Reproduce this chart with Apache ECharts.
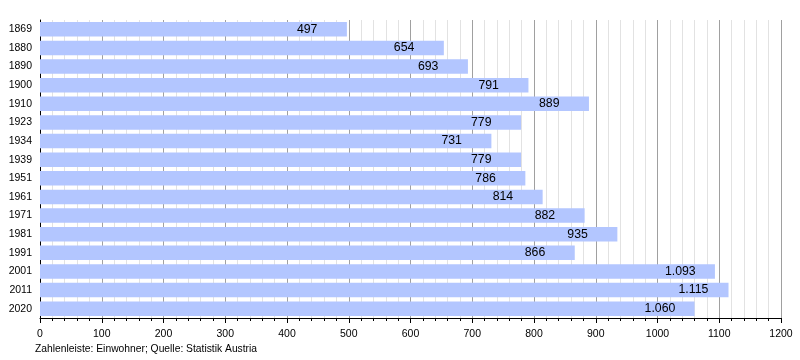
<!DOCTYPE html>
<html><head><meta charset="utf-8">
<script src="https://cdn.jsdelivr.net/npm/echarts@6/dist/echarts.min.js"></script>
<style>html,body{margin:0;padding:0;background:#fff}#c{width:800px;height:360px}</style>
</head><body><div id="c"></div>
<script>
const years = ['1869','1880','1890','1900','1910','1923','1934','1939','1951','1961','1971','1981','1991','2001','2011','2020'];
const population = [497,654,693,791,889,779,731,779,786,814,882,935,866,1093,1115,1060];
const xTicks = [0,100,200,300,400,500,600,700,800,900,1000,1100,1200];

const FONT = 'Liberation Sans, Arial, sans-serif';
const chart = echarts.init(document.getElementById('c'), null, {renderer:'canvas'});
const fmt = v => v >= 1000 ? Math.floor(v/1000) + '.' + String(v%1000).padStart(3,'0') : String(v);
chart.setOption({
  animation:false,
  backgroundColor:'#fff',
  grid:{left:40,right:19,top:20,bottom:42,containLabel:false},
  xAxis:{
    type:'value', min:xTicks[0], max:xTicks[xTicks.length-1], interval:100,
    axisLine:{show:true,lineStyle:{color:'#000',width:1}},
    axisTick:{show:true,length:5,lineStyle:{color:'#000'}},
    minorTick:{show:true,splitNumber:5,length:3,lineStyle:{color:'#000'}},
    splitLine:{show:true,lineStyle:{color:'#a0a0a0',width:1}},
    minorSplitLine:{show:true,lineStyle:{color:'#e2e2e2',width:1}},
    axisLabel:{color:'#000',fontSize:10.5,fontFamily:FONT,margin:11,formatter:v=>String(v)}
  },
  yAxis:{
    type:'category', data:years, inverse:true,
    axisLine:{show:true,onZero:false,lineStyle:{color:'#000',width:1}},
    axisTick:{show:false},
    axisLabel:{color:'#000',fontSize:10.5,fontFamily:FONT,margin:8}
  },
  series:[{
    type:'bar', data:population, barCategoryGap:'22%',
    itemStyle:{color:'#b3c6ff'},
    label:{show:true,position:'right',distance:0,offset:[-50,0],align:'left',color:'#000',fontSize:12.3,
      fontFamily:FONT,formatter:p=>fmt(p.value)}
  }],
  graphic:[{type:'text',left:35,top:344,style:{text:'Zahlenleiste: Einwohner; Quelle: Statistik Austria',fontSize:10.3,fill:'#000',fontFamily:FONT}}]
});
</script></body></html>
